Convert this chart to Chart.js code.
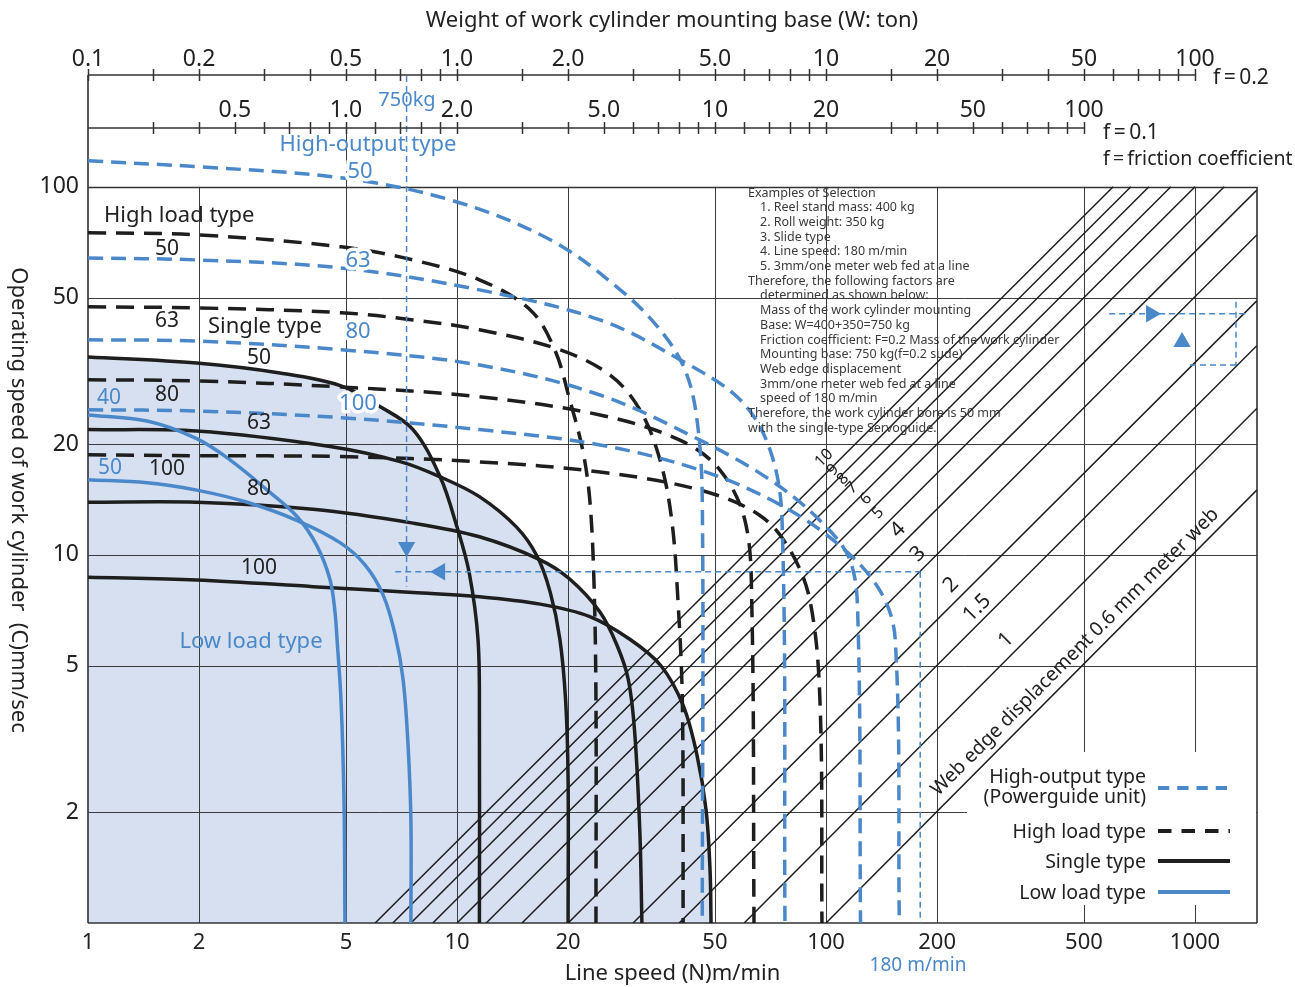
<!DOCTYPE html>
<html>
<head>
<meta charset="utf-8">
<script src="https://cdn.jsdelivr.net/npm/chart.js@4.4.0/dist/chart.umd.min.js"></script>
<style>
  html, body { margin: 0; padding: 0; background: #fff; }
  canvas { display: block; }
</style>
</head>
<body>
<canvas id="chart" width="1295" height="987"></canvas>
<script>
// axes
const xTickVals = [1, 2, 5, 10, 20, 50, 100, 200, 500, 1000];
const yTickVals = [2, 5, 10, 20, 50, 100];
const xGridVals = [2, 5, 10, 20, 50, 100, 200, 500, 1000];
const yGridVals = [2, 5, 10, 20, 50];

// weight scales on top (W in ton), f=0.2 and f=0.1
const wTicksF02 = [0.1, 0.15, 0.2, 0.3, 0.4, 0.5, 0.6, 0.7, 0.8, 0.9, 1, 1.5, 2, 3, 4, 5, 6, 7, 8, 9, 10, 15, 20, 30, 40, 50, 60, 70, 80, 90, 100];
const wLabelsF02 = [0.1, 0.2, 0.5, 1, 2, 5, 10, 20, 50, 100];
const wTicksF01 = [0.3, 0.4, 0.5, 0.6, 0.7, 0.8, 0.9, 1, 1.2, 1.4, 1.6, 1.8, 2, 3, 4, 5, 6, 7, 8, 9, 10, 12, 14, 16, 18, 20, 30, 35, 40, 50, 60, 70, 80, 90, 100];
const wLabelsF01 = [0.5, 1, 2, 5, 10, 20, 50, 100];

// High-output type (blue dashed)
const ho50N = [1, 2.01, 4.85, 9.57, 17.9, 27.7, 35.5, 41.5, 44.7, 46.2, 46.2];
const ho50C = [117.7, 113.3, 105.8, 92.2, 71.8, 52.5, 40.9, 31.8, 23.3, 14.1, 1];
const ho63N = [1, 1.97, 4.85, 11.5, 24.4, 40.2, 58.5, 70.5, 76, 77.4];
const ho63C = [64.1, 63.3, 60.2, 52.5, 43.5, 33.9, 26.4, 19.3, 12.4, 1];
const ho80N = [1, 1.97, 4.85, 11.5, 24.4, 45.6, 70.5, 96.3, 116, 122, 124];
const ho80C = [38.4, 38.1, 36.1, 32.8, 27.2, 20.5, 16.0, 12.4, 9.7, 6.7, 1];
const ho100N = [1, 1.97, 4.85, 11.5, 24.4, 45.6, 75, 109, 140, 154, 158];
const ho100C = [24.8, 24.6, 23.6, 21.9, 19.9, 17.0, 13.7, 10.6, 8.0, 5.9, 1];

// High load type (black dashed)
const hl50N = [1, 1.97, 4.85, 7.6, 11.5, 15.8, 18.4, 20.2, 21.9, 22.9, 23.5, 23.8, 23.8];
const hl50C = [75.0, 74.1, 68.7, 63.3, 55.9, 46.3, 36.1, 26.4, 19.3, 14.1, 8.5, 4.0, 1];
const hl63N = [1, 1.97, 4.85, 7.6, 11.5, 19.0, 26.0, 31.3, 35.5, 38.2, 39.7, 40.8, 41.0];
const hl63C = [47.2, 46.9, 45.5, 43.5, 40.9, 36.1, 30.8, 24.8, 18.1, 12.4, 7.5, 4.0, 1];
const hl80N = [1, 1.97, 4.85, 11.5, 24.4, 40.2, 51.6, 60.3, 62.9, 63.8];
const hl80C = [29.9, 29.7, 28.6, 26.9, 24.0, 20.5, 17.0, 12.4, 7.5, 1];
const hl100N = [1, 1.97, 4.85, 11.5, 24.4, 45.6, 66.2, 79.9, 90.5, 96.3, 97.5];
const hl100C = [18.7, 18.6, 18.5, 17.9, 16.8, 15.0, 12.8, 10.3, 7.5, 4.0, 1];

// Single type (black solid)
const sg50N = [1, 1.97, 3.31, 4.85, 6.18, 7.6, 9.0, 10.0, 10.8, 11.4, 11.5, 11.5];
const sg50C = [34.5, 33.2, 31.2, 28.8, 25.3, 21.9, 16.3, 11.9, 8.9, 5.9, 3.6, 1];
const sg63N = [1, 1.97, 4.53, 7.05, 9.0, 11.5, 14.5, 16.5, 17.9, 19.0, 19.7, 20.0, 20.0];
const sg63C = [21.9, 21.7, 19.7, 17.9, 16.3, 14.4, 11.9, 9.9, 7.9, 5.9, 4.0, 2.45, 1];
const sg80N = [1, 1.97, 4.07, 7.6, 11.5, 16.8, 20.2, 24.4, 27.1, 29.1, 30.3, 31.3, 31.7];
const sg80C = [13.9, 13.9, 13.3, 12.2, 11.2, 9.7, 8.6, 7.0, 5.7, 4.6, 3.3, 1.76, 1];
const sg100N = [1, 1.97, 4.07, 7.6, 11.5, 16.8, 22.9, 29.4, 35.7, 41.0, 44.7, 47.3, 48.5, 48.8];
const sg100C = [8.7, 8.55, 8.2, 7.9, 7.7, 7.35, 6.8, 5.9, 5.0, 3.9, 2.86, 2.03, 1.39, 1];

// Low load type (blue solid)
const lo40N = [1, 1.445, 1.97, 2.43, 3.06, 3.69, 4.17, 4.53, 4.67, 4.73, 4.85, 4.94, 4.97];
const lo40C = [24.0, 23.1, 20.7, 18.1, 15.0, 12.7, 10.6, 8.55, 7.0, 5.9, 4.0, 2.16, 1];
const lo50N = [1, 1.445, 1.97, 2.70, 3.69, 4.82, 5.63, 6.30, 6.79, 7.14, 7.36, 7.5, 7.5];
const lo50C = [16.0, 15.7, 15.0, 13.9, 12.4, 10.8, 9.4, 7.8, 6.1, 4.6, 3.1, 1.9, 1];

// web edge displacement lines (mm per meter)
const webLabels = ['10', '9', '8', '7', '6', '5', '4', '3', '2', '1.5', '1', '0.6'];
const webStartN = [6, 6.7, 7.5, 8.6, 10, 12, 15, 20, 30, 40, 60, 100];
const webEndN = [600, 670, 750, 860, 1000, 1200, 1470, 1470, 1470, 1470, 1470, 1470];
const webEndC = [100, 100, 100, 100, 100, 100, 98, 74, 49, 37, 25, 15];

// selection example
const exWeightN = [7.3, 7.3];
const exWeightC = [200, 8.2];
const exSpeedN = [6.8, 180];
const exSpeedC = [9, 9];
const exLineN = [180, 180];
const exLineC = [9, 1];
const keyTopN = [585, 1384];
const keyTopC = [45.2, 45.2];
const keySideN = [1291, 1291];
const keySideC = [48.7, 32.8];
const keyLowN = [969, 1291];
const keyLowC = [32.8, 32.8];

const BLUE = '#4a88c9';
const INK = '#1e1e1e';
const SHADE = '#d6e0f1';
const FONT = '"Noto Sans", "Open Sans", sans-serif';

function pts(ns, cs) {
    return ns.map((n, i) => ({ x: n, y: cs[i] }));
}

function curve(ns, cs, color, dash, extra) {
    return Object.assign({
        data: pts(ns, cs),
        showLine: true,
        borderColor: color,
        borderWidth: 3.5,
        borderDash: dash,
        pointRadius: 0,
        tension: 0.35,
        fill: false
    }, extra || {});
}

function thin(ns, cs, extra) {
    return Object.assign({
        data: pts(ns, cs),
        showLine: true,
        borderColor: BLUE,
        borderWidth: 1.5,
        borderDash: [6, 4],
        pointRadius: 0,
        tension: 0,
        fill: false
    }, extra || {});
}

function arrow(n, c, rot) {
    return {
        data: [{ x: n, y: c }],
        showLine: false,
        pointStyle: 'triangle',
        pointRadius: 10,
        pointRotation: rot,
        pointBackgroundColor: BLUE,
        pointBorderWidth: 0
    };
}

const FILLED = { fill: 'start', backgroundColor: SHADE };
const HO_DASH = [15, 8];
const HL_DASH = [18, 10];

let datasets = [
    arrow(7.3, 10.5, 180),
    arrow(9.0, 9.0, 270),
    arrow(760, 45.2, 90),
    arrow(922, 37.9, 0),
    thin(exWeightN, exWeightC, { clip: false }),
    thin(exSpeedN, exSpeedC),
    thin(exLineN, exLineC),
    thin(keyTopN, keyTopC),
    thin(keySideN, keySideC),
    thin(keyLowN, keyLowC),
    curve(ho50N, ho50C, BLUE, HO_DASH),
    curve(ho63N, ho63C, BLUE, HO_DASH),
    curve(ho80N, ho80C, BLUE, HO_DASH),
    curve(ho100N, ho100C, BLUE, HO_DASH),
    curve(hl50N, hl50C, INK, HL_DASH),
    curve(hl63N, hl63C, INK, HL_DASH),
    curve(hl80N, hl80C, INK, HL_DASH),
    curve(hl100N, hl100C, INK, HL_DASH),
    curve(lo40N, lo40C, BLUE, []),
    curve(lo50N, lo50C, BLUE, []),
    curve(sg50N, sg50C, INK, [], FILLED),
    curve(sg63N, sg63C, INK, [], FILLED),
    curve(sg80N, sg80C, INK, [], FILLED),
    curve(sg100N, sg100C, INK, [], FILLED)
];

webStartN.forEach((n, i) => {
    datasets.push({
        data: [{ x: n, y: 1 }, { x: webEndN[i], y: webEndC[i] }],
        showLine: true,
        borderColor: INK,
        borderWidth: 1.5,
        pointRadius: 0,
        fill: false
    });
});

function text(ctx, str, x, y, o) {
    o = o || {};
    ctx.save();
    ctx.font = (o.size || 21) + 'px ' + FONT;
    ctx.fillStyle = o.color || '#222';
    ctx.textAlign = o.align || 'center';
    ctx.textBaseline = 'middle';
    ctx.translate(x, y);
    if (o.rot) ctx.rotate(o.rot);
    if (o.halo) {
        ctx.strokeStyle = '#fff';
        ctx.lineWidth = 7;
        ctx.lineJoin = 'round';
        ctx.strokeText(str, 0, 0);
    }
    ctx.fillText(str, 0, 0);
    ctx.restore();
}

function fmtW(w) {
    return w < 10 ? w.toFixed(1) : String(w);
}

const gridPlugin = {
    id: 'gridBox',
    beforeDatasetsDraw(chart) {
        const { ctx, chartArea: a } = chart;
        const xs = chart.scales.x, ys = chart.scales.y;
        const top = ys.getPixelForValue(100);
        ctx.save();
        ctx.strokeStyle = '#3c3c3c';
        ctx.lineWidth = 1;
        ctx.beginPath();
        xGridVals.forEach(v => {
            const px = Math.round(xs.getPixelForValue(v)) + 0.5;
            // the 5 m/min line runs up to the weight scale
            ctx.moveTo(px, v === 5 ? a.top : top);
            ctx.lineTo(px, a.bottom);
        });
        yGridVals.forEach(v => {
            const py = Math.round(ys.getPixelForValue(v)) + 0.5;
            ctx.moveTo(a.left, py);
            ctx.lineTo(a.right, py);
        });
        ctx.stroke();

        // white area behind the legend
        ctx.fillStyle = '#fff';
        ctx.fillRect(1000, 752, a.right - 1001, 153);
        ctx.fillRect(967, 795, 40, 110);

        ctx.strokeStyle = '#333';
        ctx.lineWidth = 1.6;
        ctx.beginPath();
        ctx.moveTo(a.left, Math.round(top) + 0.5);
        ctx.lineTo(a.right, Math.round(top) + 0.5);
        ctx.moveTo(a.right, top);
        ctx.lineTo(a.right, a.bottom);
        ctx.moveTo(a.left, a.bottom);
        ctx.lineTo(a.right, a.bottom);
        ctx.moveTo(a.left, a.bottom);
        ctx.lineTo(a.left, 75);
        ctx.stroke();
        ctx.restore();
    }
};

const notePlugin = {
    id: 'notes',
    afterDraw(chart) {
        const ctx = chart.ctx;
        const xs = chart.scales.x;

        // weight axes on top
        ctx.save();
        ctx.strokeStyle = '#333';
        ctx.lineWidth = 1.5;
        [[75, 10, wTicksF02, wLabelsF02, 59], [128, 5, wTicksF01, wLabelsF01, 110]].forEach(ax => {
            const [yl, k, ticks, labels, ly] = ax;
            ctx.beginPath();
            ctx.moveTo(xs.getPixelForValue(1), yl);
            ctx.lineTo(xs.getPixelForValue(100 * k), yl);
            ticks.forEach(w => {
                const px = Math.round(xs.getPixelForValue(w * k)) + 0.5;
                ctx.moveTo(px, yl - 6);
                ctx.lineTo(px, yl + 6);
            });
            ctx.stroke();
            labels.forEach(w => text(ctx, fmtW(w), xs.getPixelForValue(w * k), ly, { size: 23 }));
        });
        ctx.restore();

        text(ctx, 'Weight of work cylinder mounting base (W: ton)', 672, 21, { size: 22 });
        text(ctx, 'f\u2009=\u20090.2', 1213, 78, { size: 21, align: 'left' });
        text(ctx, 'f\u2009=\u20090.1', 1103, 133, { size: 21, align: 'left' });
        text(ctx, 'f\u2009=\u2009friction coefficient', 1103, 159, { size: 19.5, align: 'left' });
        text(ctx, 'Operating speed of work cylinder  (C)mm/sec', 18, 500, { size: 22, rot: Math.PI / 2 });
        text(ctx, '750kg', 407, 100, { size: 20, color: BLUE });
        text(ctx, '180 m/min', 918, 966, { size: 19, color: BLUE });
    },
    afterDatasetsDraw(chart) {
        const ctx = chart.ctx;

        text(ctx, 'High load type', 104, 216, { size: 22, align: 'left' });
        text(ctx, '50', 167, 249);
        text(ctx, '63', 167, 321);
        text(ctx, '80', 167, 395);
        text(ctx, '100', 167, 469);
        text(ctx, 'Single type', 208, 327, { size: 22, align: 'left' });
        text(ctx, '50', 259, 358);
        text(ctx, '63', 259, 423);
        text(ctx, '80', 259, 489);
        text(ctx, '100', 259, 568);

        text(ctx, 'High-output type', 368, 145, { size: 22, color: BLUE });
        text(ctx, '50', 360, 172, { size: 22, color: BLUE, halo: true });
        text(ctx, '63', 358, 261, { size: 22, color: BLUE, halo: true });
        text(ctx, '80', 358, 332, { size: 22, color: BLUE, halo: true });
        text(ctx, '100', 358, 404, { size: 22, color: BLUE, halo: true });
        text(ctx, '40', 109, 398, { color: BLUE });
        text(ctx, '50', 110, 468, { color: BLUE });
        text(ctx, 'Low load type', 251, 642, { size: 22, color: BLUE });

        // web edge labels
        const rot = -Math.PI / 4;
        const small = [[824, 458], [833, 470], [843, 479], [852, 488], [866, 499], [878, 513]];
        small.forEach((p, i) => text(ctx, webLabels[i], p[0], p[1], { size: 16, rot: rot }));
        const big = [[898, 530], [918, 554], [951, 585], [977, 608], [1006, 640]];
        big.forEach((p, i) => text(ctx, webLabels[i + 6], p[0], p[1], { size: 21, rot: rot }));
        text(ctx, 'Web edge displacement 0.6 mm meter web', 1075, 652, { size: 19.5, rot: rot });

        // example of selection
        const note = [
            ['Examples of Selection', 0],
            ['1. Reel stand mass: 400 kg', 1],
            ['2. Roll weight: 350 kg', 1],
            ['3. Slide type', 1],
            ['4. Line speed: 180 m/min', 1],
            ['5. 3mm/one meter web fed at a line', 1],
            ['Therefore, the following factors are', 0],
            ['determined as shown below:', 1],
            ['Mass of the work cylinder mounting', 1],
            ['Base: W=400+350=750 kg', 1],
            ['Friction coefficient: F=0.2 Mass of the work cylinder', 1],
            ['Mounting base: 750 kg(f=0.2 sude)', 1],
            ['Web edge displacement', 1],
            ['3mm/one meter web fed at a line', 1],
            ['speed of 180 m/min', 1],
            ['Therefore, the work cylinder bore is 50 mm', 0],
            ['with the single-type Servoguide.', 0]
        ];
        note.forEach((l, i) => text(ctx, l[0], l[1] ? 760 : 748, 193 + i * 14.7, { size: 12.5, align: 'left', color: '#3a3a3a' }));

        // legend
        const leg = [
            [['High-output type', '(Powerguide unit)'], 788, BLUE, HO_DASH],
            [['High load type'], 831, INK, HL_DASH],
            [['Single type'], 861, INK, []],
            [['Low load type'], 892, BLUE, []]
        ];
        leg.forEach(item => {
            const [lines, y, color, dash] = item;
            if (lines.length === 2) {
                text(ctx, lines[0], 1146, y - 11, { size: 19.5, align: 'right' });
                text(ctx, lines[1], 1146, y + 9, { size: 19.5, align: 'right' });
            } else {
                text(ctx, lines[0], 1146, y + 1, { size: 19.5, align: 'right' });
            }
            ctx.save();
            ctx.strokeStyle = color;
            ctx.lineWidth = 4;
            ctx.setLineDash(dash.length ? [dash[0] * 0.75, dash[1]] : []);
            ctx.beginPath();
            ctx.moveTo(1158, y);
            ctx.lineTo(1230, y);
            ctx.stroke();
            ctx.restore();
        });
    }
};

const chart = new Chart(document.getElementById('chart'), {
    type: 'scatter',
    data: { datasets: datasets },
    options: {
        responsive: false,
        animation: false,
        devicePixelRatio: 1,
        layout: { padding: { top: 128, right: 38, left: 0, bottom: 0 } },
        plugins: {
            legend: { display: false },
            tooltip: { enabled: false },
            filler: { drawTime: 'beforeDatasetsDraw' }
        },
        scales: {
            x: {
                type: 'logarithmic',
                min: 1,
                max: 1472,
                afterBuildTicks: s => { s.ticks = xTickVals.map(v => ({ value: v })); },
                afterFit: s => { s.height = 64; },
                grid: { display: false, drawTicks: false },
                border: { display: false },
                ticks: {
                    autoSkip: false,
                    maxRotation: 0,
                    padding: 7,
                    color: '#222',
                    font: { family: FONT, size: 22 },
                    callback: v => String(v)
                },
                title: {
                    display: true,
                    text: 'Line speed (N)m/min',
                    color: '#222',
                    font: { family: FONT, size: 22 },
                    padding: { top: 0, bottom: 0 }
                }
            },
            y: {
                type: 'logarithmic',
                min: 1,
                max: 144.5,
                afterBuildTicks: s => { s.ticks = yTickVals.map(v => ({ value: v })); },
                afterFit: s => { s.width = 88; },
                grid: { display: false, drawTicks: false },
                border: { display: false },
                ticks: {
                    autoSkip: false,
                    padding: 9,
                    color: '#222',
                    font: { family: FONT, size: 23 },
                    callback: v => String(v)
                }
            }
        }
    },
    plugins: [gridPlugin, notePlugin]
});
</script>
</body>
</html>
